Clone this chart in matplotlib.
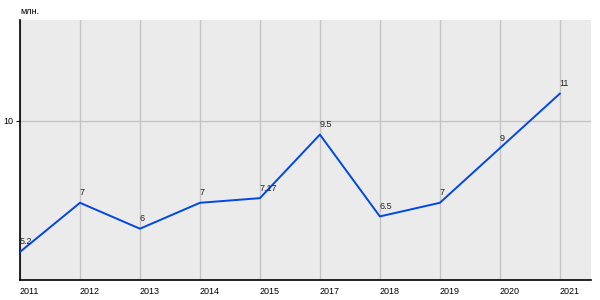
import matplotlib
matplotlib.use("Agg")
import matplotlib.pyplot as plt

years = ["2011", "2012", "2013", "2014", "2015", "2017", "2018", "2019", "2020", "2021"]
values = [5.2, 7, 6.05, 7, 7.17, 9.5, 6.5, 7, 9, 11]
labels = ["5.2", "7", "6", "7", "7.17", "9.5", "6.5", "7", "9", "11"]
y_ticks = [10]
unit = "млн."

plt.rcParams['font.family'] = ['Liberation Sans', 'DejaVu Sans']

fig = plt.figure(figsize=(6, 3), dpi=100)
ax = fig.add_axes([20/600, 20/300, 571/600, 260/300])
ax.set_facecolor('#ebebeb')

x = list(range(len(years)))
ax.plot(x, values, color='#0047e6', lw=1.4, zorder=3)
for xi, v, lab in zip(x, values, labels):
    ax.annotate(lab, (xi, v), xytext=(0, 4), textcoords='offset points',
                ha='left', va='bottom', fontsize=6.5, color='#222222', zorder=4)

ax.set_xlim(0, 9.52)
ax.set_ylim(4.17, 13.7)
ax.set_xticks(x)
ax.set_xticklabels(years, fontsize=6.5, ha='left')
ax.set_yticks(y_ticks)
ax.set_yticklabels([str(t) for t in y_ticks], fontsize=6.5)
ax.grid(True, color='#c4c4c4', lw=1)
ax.set_axisbelow(True)
ax.tick_params(axis='x', length=0, pad=5)
ax.tick_params(axis='y', length=3, pad=2)
for s in ['top', 'right']:
    ax.spines[s].set_visible(False)
ax.spines['left'].set_linewidth(1.2)
ax.spines['bottom'].set_linewidth(1.2)

fig.text(20/600, 1 - 12/300, unit, fontsize=6.5, ha='left', va='center')

fig.savefig("out.png", dpi=100)
